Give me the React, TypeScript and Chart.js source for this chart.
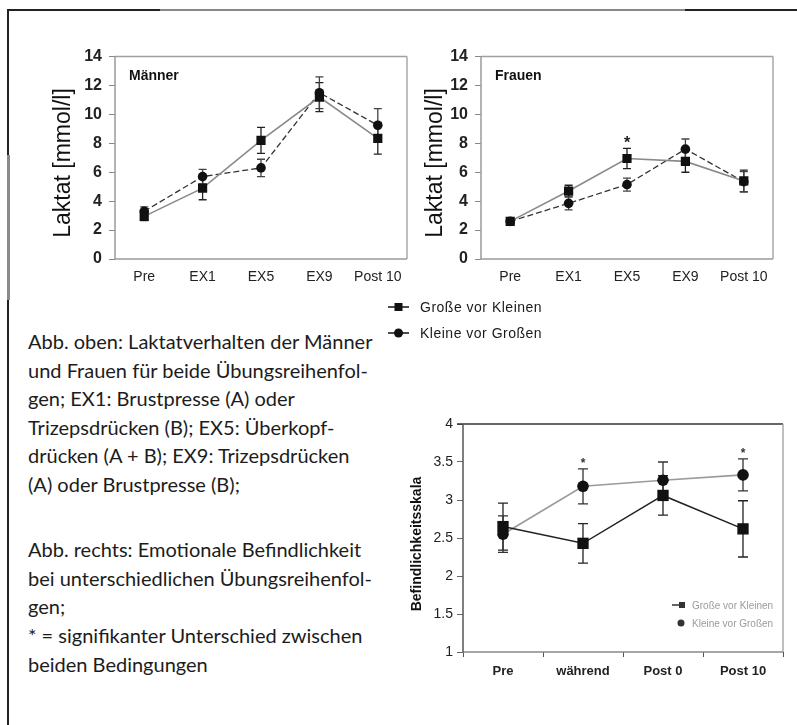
import React, { useEffect, useRef } from 'react';
import { Chart, registerables } from 'chart.js';

Chart.register(...registerables);

// ---------- data ----------
const lactCategories = ['Pre', 'EX1', 'EX5', 'EX9', 'Post 10'];
const lactTickMax = 14;
const lactTickStep = 2;

const menGrosseVorKleinen = [2.95, 4.9, 8.2, 11.2, 8.35];
const menGrosseVorKleinenErr = [0.3, 0.8, 0.9, 1.0, 1.1];
const menKleineVorGrossen = [3.3, 5.7, 6.3, 11.5, 9.25];
const menKleineVorGrossenErr = [0.3, 0.5, 0.6, 1.1, 1.15];
const menSignificance = ['', '', '', '', ''];

const womenGrosseVorKleinen = [2.6, 4.7, 6.95, 6.75, 5.4];
const womenGrosseVorKleinenErr = [0.15, 0.4, 0.7, 0.75, 0.75];
const womenKleineVorGrossen = [2.6, 3.85, 5.15, 7.6, 5.35];
const womenKleineVorGrossenErr = [0.15, 0.45, 0.45, 0.7, 0.7];
const womenSignificance = ['', '', '*', '', ''];

const moodCategories = ['Pre', 'während', 'Post 0', 'Post 10'];
const moodGrosseVorKleinen = [2.65, 2.43, 3.06, 2.62];
const moodGrosseVorKleinenErr = [0.31, 0.26, 0.26, 0.37];
const moodKleineVorGrossen = [2.55, 3.18, 3.26, 3.33];
const moodKleineVorGrossenErr = [0.24, 0.23, 0.24, 0.21];
const moodSignificance = ['', '*', '', '*'];

const seriesNames = ['Große vor Kleinen', 'Kleine vor Großen'];

const captionTop = [
  'Abb. oben: Laktatverhalten der Männer',
  'und Frauen für beide Übungsreihenfol-',
  'gen; EX1: Brustpresse (A) oder',
  'Trizepsdrücken (B); EX5: Überkopf-',
  'drücken (A + B); EX9: Trizepsdrücken',
  '(A) oder Brustpresse (B);',
];
const captionBottom = [
  'Abb. rechts: Emotionale Befindlichkeit',
  'bei unterschiedlichen Übungsreihenfol-',
  'gen;',
  '* = signifikanter Unterschied zwischen',
  'beiden Bedingungen',
];

// ---------- plugins ----------
const errorBarPlugin = {
  id: 'errorBars',
  beforeDatasetsDraw(chart: any) {
    const ctx = chart.ctx;
    const ys = chart.scales.y;
    chart.data.datasets.forEach((ds: any, i: number) => {
      if (!ds.errors) return;
      const meta = chart.getDatasetMeta(i);
      ctx.save();
      ctx.strokeStyle = ds.errorColor || '#222';
      ctx.lineWidth = ds.errorWidth || 1.3;
      const cap = ds.capWidth || 4;
      meta.data.forEach((pt: any, j: number) => {
        const v = ds.data[j];
        const e = ds.errors[j];
        const yt = ys.getPixelForValue(v + e);
        const yb = ys.getPixelForValue(v - e);
        ctx.beginPath();
        ctx.moveTo(pt.x, yt);
        ctx.lineTo(pt.x, yb);
        ctx.moveTo(pt.x - cap, yt);
        ctx.lineTo(pt.x + cap, yt);
        ctx.moveTo(pt.x - cap, yb);
        ctx.lineTo(pt.x + cap, yb);
        ctx.stroke();
      });
      ctx.restore();
    });
  },
  afterDatasetsDraw(chart: any) {
    const opts = chart.options.plugins.significance;
    if (!opts || !opts.marks) return;
    const ctx = chart.ctx;
    const ys = chart.scales.y;
    opts.marks.forEach((m: string, j: number) => {
      if (!m) return;
      let top = -Infinity;
      let x = 0;
      chart.data.datasets.forEach((ds: any, i: number) => {
        const v = ds.data[j] + (ds.errors ? ds.errors[j] : 0);
        if (v > top) top = v;
        x = chart.getDatasetMeta(i).data[j].x;
      });
      ctx.save();
      ctx.fillStyle = opts.color || '#222';
      ctx.font = opts.font;
      ctx.textAlign = 'center';
      ctx.textBaseline = 'alphabetic';
      ctx.fillText(m, x, ys.getPixelForValue(top) + (opts.offset || 0));
      ctx.restore();
    });
  },
};

const framePlugin = {
  id: 'frame',
  afterDraw(chart: any) {
    const o = chart.options.plugins.frame;
    if (!o) return;
    const { left, right, top, bottom } = chart.chartArea;
    const ctx = chart.ctx;
    ctx.save();
    ctx.lineWidth = o.width || 1.5;
    const seg = (c: string, x1: number, y1: number, x2: number, y2: number) => {
      if (!c) return;
      ctx.strokeStyle = c;
      ctx.beginPath();
      ctx.moveTo(x1, y1);
      ctx.lineTo(x2, y2);
      ctx.stroke();
    };
    seg(o.top, left - (o.topExtend || 0), top, right, top);
    seg(o.right, right, top, right, bottom);
    seg(o.bottom, left, bottom, right, bottom);
    seg(o.left, left, top, left, bottom);
    if (o.label) {
      ctx.fillStyle = '#111';
      ctx.font = o.labelFont;
      ctx.textBaseline = 'middle';
      ctx.textAlign = 'left';
      ctx.fillText(o.label, left + o.labelDx, top + o.labelDy);
    }
    if (o.yTitle) {
      ctx.save();
      ctx.translate(o.yTitle.x, o.yTitle.y);
      ctx.rotate(-Math.PI / 2);
      ctx.fillStyle = '#111';
      ctx.font = o.yTitle.font;
      ctx.textAlign = 'center';
      ctx.textBaseline = 'middle';
      ctx.fillText(o.yTitle.text, 0, 0);
      ctx.restore();
    }
    ctx.restore();
  },
};

const FONT = '"Liberation Sans", Arial, Helvetica, sans-serif';
const NARROW = '"Liberation Sans Narrow", "Liberation Sans", Arial, sans-serif';

function makeLactConfig(
  gross: number[], grossErr: number[], klein: number[], kleinErr: number[],
  marks: string[], label: string, yWidth: number, titleX: number, padRight: number
) {
  return {
    type: 'line',
    data: {
      labels: lactCategories,
      datasets: [
        {
          label: seriesNames[0], data: gross, errors: grossErr, errorColor: '#222', capWidth: 4,
          borderColor: '#8a8a8a', borderWidth: 1.6, pointStyle: 'rect', pointRadius: 6.5,
          pointBackgroundColor: '#111', pointBorderColor: '#111', pointBorderWidth: 0, tension: 0,
        },
        {
          label: seriesNames[1], data: klein, errors: kleinErr, errorColor: '#444', capWidth: 4,
          borderColor: '#333', borderWidth: 1.3, borderDash: [6, 3], pointStyle: 'circle', pointRadius: 4.8,
          pointBackgroundColor: '#111', pointBorderColor: '#111', pointBorderWidth: 0, tension: 0,
        },
      ],
    },
    options: {
      animation: false,
      responsive: false,
      events: [],
      layout: { padding: { top: 12, right: padRight, bottom: 0, left: 0 } },
      plugins: {
        legend: { display: false },
        tooltip: { enabled: false },
        significance: { marks, font: 'bold 16px ' + FONT, offset: 0, color: '#222' },
        frame: {
          top: '#a0a0a0', right: '#a8a8a8', bottom: '#9a9a9a', left: '#9a9a9a', width: 1.5,
          label, labelFont: 'bold 14px ' + FONT, labelDx: 14, labelDy: 20,
          yTitle: { text: 'Laktat [mmol/l]', font: '23px ' + FONT, x: titleX, y: 123 },
        },
      },
      scales: {
        x: {
          type: 'category',
          offset: true,
          grid: { display: false, drawTicks: false },
          border: { display: false },
          ticks: { font: { family: FONT, size: 14 }, color: '#222', padding: 10, maxRotation: 0, autoSkip: false },
          afterFit: (s: any) => { s.height = 31; },
        },
        y: {
          min: 0,
          max: lactTickMax,
          ticks: { stepSize: lactTickStep, font: { family: NARROW, size: 16, weight: 'bold' }, color: '#222', padding: 7 },
          grid: { drawOnChartArea: false, drawTicks: true, tickLength: 6, color: '#888', lineWidth: 1 },
          border: { display: false },
          title: { display: false },
          afterFit: (s: any) => { s.width = yWidth; },
        },
      },
    },
    plugins: [errorBarPlugin, framePlugin],
  };
}

function makeMoodConfig() {
  return {
    type: 'line',
    data: {
      labels: moodCategories,
      datasets: [
        {
          label: seriesNames[0], data: moodGrosseVorKleinen, errors: moodGrosseVorKleinenErr, errorColor: '#222', capWidth: 5,
          borderColor: '#222', borderWidth: 1.5, pointStyle: 'rect', pointRadius: 8,
          pointBackgroundColor: '#111', pointBorderColor: '#111', pointBorderWidth: 0, tension: 0,
        },
        {
          label: seriesNames[1], data: moodKleineVorGrossen, errors: moodKleineVorGrossenErr, errorColor: '#333', capWidth: 5,
          borderColor: '#9a9a9a', borderWidth: 1.6, pointStyle: 'circle', pointRadius: 5.8,
          pointBackgroundColor: '#111', pointBorderColor: '#111', pointBorderWidth: 0, tension: 0,
        },
      ],
    },
    options: {
      animation: false,
      responsive: false,
      events: [],
      layout: { padding: { top: 19, right: 14, bottom: 0, left: 0 } },
      plugins: {
        legend: { display: false },
        tooltip: { enabled: false },
        significance: { marks: moodSignificance, font: 'bold 12px ' + FONT, offset: -2, color: '#333' },
        frame: {
          top: '#333', right: '#aaa', bottom: '#888', left: '#555', width: 1.5, topExtend: 6,
          yTitle: { text: 'Befindlichkeitsskala', font: 'bold 14px ' + FONT, x: 17, y: 139 },
        },
      },
      scales: {
        x: {
          type: 'category',
          offset: true,
          grid: { offset: true, drawOnChartArea: false, drawTicks: true, tickLength: 5, color: '#555' },
          border: { display: false },
          ticks: { font: { family: FONT, size: 13, weight: 'bold' }, color: '#222', padding: 7, maxRotation: 0, autoSkip: false },
          afterFit: (s: any) => { s.height = 53; },
        },
        y: {
          min: 1,
          max: 4,
          ticks: {
            stepSize: 0.5, font: { family: FONT, size: 14 }, color: '#222', padding: 4,
            callback: (v: any) => String(v),
          },
          grid: { drawOnChartArea: false, drawTicks: true, tickLength: 6, color: '#666' },
          border: { display: false },
          title: { display: false },
          afterFit: (s: any) => { s.width = 63; },
        },
      },
    },
    plugins: [errorBarPlugin, framePlugin],
  };
}

function ChartBox(props: { left: number; top: number; width: number; height: number; config: () => any }) {
  const ref = useRef<HTMLCanvasElement | null>(null);
  useEffect(() => {
    if (!ref.current) return;
    const chart = new Chart(ref.current, props.config());
    return () => chart.destroy();
  }, []);
  return (
    <div style={{ position: 'absolute', left: props.left, top: props.top, width: props.width, height: props.height }}>
      <canvas ref={ref} width={props.width} height={props.height} style={{ display: 'block' }} />
    </div>
  );
}

function Marker(props: { kind: 'rect' | 'circle'; color: string; size: number; w: number; lineFrom: number; lineTo: number; cx: number }) {
  const h = 12;
  return (
    <svg width={props.w} height={h} style={{ display: 'block' }}>
      {props.lineTo > props.lineFrom && (
        <line x1={props.lineFrom} y1={h / 2} x2={props.lineTo} y2={h / 2} stroke={props.color} strokeWidth={1.5} />
      )}
      {props.kind === 'rect' ? (
        <rect x={props.cx - props.size / 2} y={h / 2 - props.size / 2} width={props.size} height={props.size} fill={props.color} />
      ) : (
        <circle cx={props.cx} cy={h / 2} r={props.size / 2} fill={props.color} />
      )}
    </svg>
  );
}

export default function App() {
  const textFont = 'Lato, "Open Sans", sans-serif';
  return (
    <div style={{ position: 'absolute', left: 0, top: 0, width: 797, height: 725, background: '#fff', overflow: 'hidden' }}>
      {/* frame lines */}
      <div style={{ position: 'absolute', left: 8, top: 9, width: 789, height: 2, background: '#222' }} />
      <div style={{ position: 'absolute', left: 160, top: 9, width: 525, height: 2, background: '#888' }} />
      <div style={{ position: 'absolute', left: 7, top: 9, width: 2, height: 716, background: '#222' }} />
      <div style={{ position: 'absolute', left: 7, top: 155, width: 3, height: 145, background: '#8a8a8a' }} />

      <ChartBox left={20} top={40} width={400} height={250}
        config={() => makeLactConfig(menGrosseVorKleinen, menGrosseVorKleinenErr, menKleineVorGrossen, menKleineVorGrossenErr, menSignificance, 'Männer', 95, 44, 13)} />
      <ChartBox left={390} top={40} width={396} height={250}
        config={() => makeLactConfig(womenGrosseVorKleinen, womenGrosseVorKleinenErr, womenKleineVorGrossen, womenKleineVorGrossenErr, womenSignificance, 'Frauen', 91, 46, 13)} />
      <ChartBox left={400} top={405} width={397} height={300} config={makeMoodConfig} />

      {/* middle legend */}
      {[0, 1].map((i) => (
        <div key={i} style={{ position: 'absolute', left: 388, top: i === 0 ? 298 : 324, height: 18, display: 'flex', alignItems: 'center' }}>
          <Marker kind={i === 0 ? 'rect' : 'circle'} color="#111" size={i === 0 ? 8 : 9} w={21} lineFrom={0} lineTo={21} cx={10.5} />
          <span style={{ marginLeft: 11, font: '14px ' + FONT, letterSpacing: '0.5px', color: '#1a1a1a', whiteSpace: 'pre' }}>{seriesNames[i]}</span>
        </div>
      ))}

      {/* legend inside mood chart */}
      {[0, 1].map((i) => (
        <div key={i} style={{ position: 'absolute', left: 672, top: i === 0 ? 598 : 616, height: 14, display: 'flex', alignItems: 'center' }}>
          <Marker kind={i === 0 ? 'rect' : 'circle'} color="#333" size={i === 0 ? 6 : 7} w={20}
            lineFrom={0} lineTo={i === 0 ? 8 : 0} cx={i === 0 ? 10 : 9} />
          <span style={{ font: '10px ' + FONT, color: '#9a9a9a', whiteSpace: 'pre' }}>{seriesNames[i]}</span>
        </div>
      ))}

      {/* captions */}
      {captionTop.map((t, i) => (
        <div key={'a' + i} style={{ position: 'absolute', left: 28, top: 342 + i * 28.6 - 13, height: 26, lineHeight: '26px', font: '20px ' + textFont, color: '#1c1c1c', whiteSpace: 'pre' }}>{t}</div>
      ))}
      {captionBottom.map((t, i) => (
        <div key={'b' + i} style={{ position: 'absolute', left: 28, top: 550 + i * 28.7 - 13, height: 26, lineHeight: '26px', font: '20px ' + textFont, color: '#1c1c1c', whiteSpace: 'pre' }}>{t}</div>
      ))}
    </div>
  );
}
